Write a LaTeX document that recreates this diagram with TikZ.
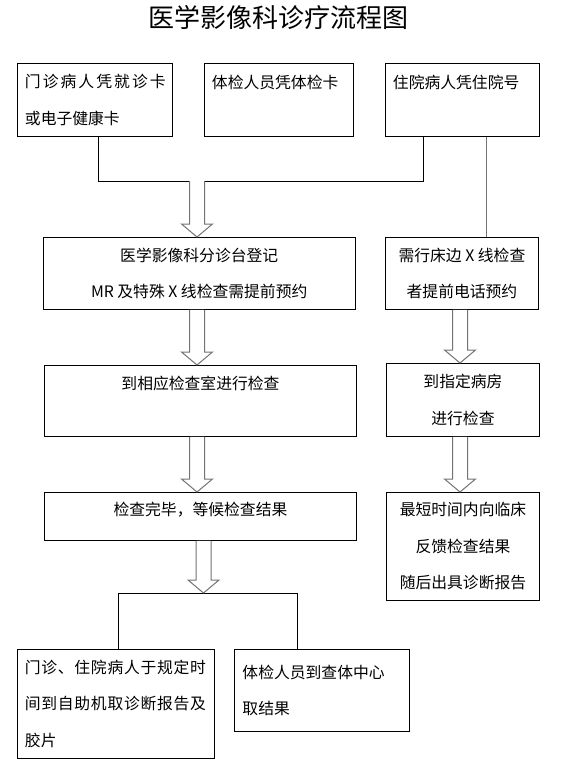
\documentclass[tikz,border=0pt]{standalone}
\usepackage{fontspec}
\setmainfont{Noto Sans CJK SC}
\newfontfamily\cjkwide{Noto Sans CJK SC}[LetterSpace=13]
\newfontfamily\cjkmid{Noto Sans CJK SC}[LetterSpace=4.5]
\usetikzlibrary{calc}

\newcommand{\boxfont}{\fontsize{15.8}{36.5}\selectfont}
% hollow block arrow: x, start, tip
\newcommand{\hollowarrow}[3]{%
  \draw[hollow] let \p1=(#2), \p2=(#3) in
    (#1pt-7.5pt,\y1) -- (#1pt-7.5pt,\y2+13pt) -- (#1pt-15.5pt,\y2+13pt) -- (#1pt,\y2)
    -- (#1pt+15.5pt,\y2+13pt) -- (#1pt+7.5pt,\y2+13pt) -- (#1pt+7.5pt,\y1);}

\begin{document}
\begin{tikzpicture}[
    x=1pt, y=-1pt,
    box/.style={rectangle, draw, line width=0.9pt, anchor=north west, inner xsep=7.5pt, inner ysep=0pt, font=\boxfont},
    leftbox/.style={box, align=left},
    midbox/.style={box, align=center},
    link/.style={line width=1pt},
    hollow/.style={draw=black!55, fill=white, line width=1pt},
]
    \useasboundingbox (0,0) rectangle (574,773);
    \node[font=\fontsize{26}{26}\selectfont] (title) at (278,18) {医学影像科诊疗流程图};

    % entry cards
    \node[leftbox, text width=140pt, minimum height=73pt] (clinic) at (17,63) {{\cjkwide 门诊病人凭就诊卡}\\或电子健康卡};
    \node[leftbox, text width=134pt, minimum height=73pt] (checkup) at (204,63) {体检人员凭体检卡\\\mbox{}};
    \node[leftbox, text width=139pt, minimum height=73pt] (ward) at (385,63) {住院病人凭住院号\\\mbox{}};

    % left branch
    \node[midbox, minimum width=312.5pt, minimum height=72pt] (reg) at (42.5,237) {医学影像科分诊台登记\\MR 及特殊 X 线检查需提前预约};
    \node[midbox, minimum width=312pt, minimum height=71pt] (room) at (44,365) {到相应检查室进行检查\\\mbox{}};
    \node[box, minimum width=312pt, text height=23pt, text depth=25pt] (wait) at (44,492) {检查完毕，等候检查结果};

    % right branch
    \node[midbox, minimum width=153pt, minimum height=72pt] (bedside) at (385,237) {需行床边 X 线检查\\者提前电话预约};
    \node[midbox, minimum width=153pt, minimum height=73pt] (sickroom) at (386,363) {到指定病房\\进行检查};
    \node[midbox, minimum width=153pt, minimum height=108pt] (feedback) at (386,492) {最短时间内向临床\\反馈检查结果\\随后出具诊断报告};

    % results
    \node[leftbox, text width=182pt, minimum height=109pt] (selfserve) at (17,649) {{\cjkmid 门诊、住院病人于规定时}\\{\cjkmid 间到自助机取诊断报告及}\\胶片};
    \node[leftbox, inner xsep=8pt, text width=159pt, minimum height=82pt] (center) at (234,649) {体检人员到查体中心\\取结果};

    \coordinate (j1) at (98,181);
    \coordinate (j2) at (423,181);
    \coordinate (r1) at (486,0);
    \coordinate (k1) at (118,593);
    \coordinate (k2) at (297,593);

    \draw[link] (clinic.south -| j1) -- (j1) -- (j2) -- (ward.south -| j2);
    \draw[link, draw=black!55] (ward.south -| r1) -- (bedside.north -| r1);
    \draw[link] (selfserve.north -| k1) -- (k1) -- (k2) -- (center.north -| k2);

    \hollowarrow{197}{j1}{reg.north}
    \hollowarrow{197}{reg.south}{room.north}
    \hollowarrow{197}{room.south}{wait.north}
    \hollowarrow{203.5}{wait.south}{k1}
    \hollowarrow{460}{bedside.south}{sickroom.north}
    \hollowarrow{460}{sickroom.south}{feedback.north}
\end{tikzpicture}
\end{document}
